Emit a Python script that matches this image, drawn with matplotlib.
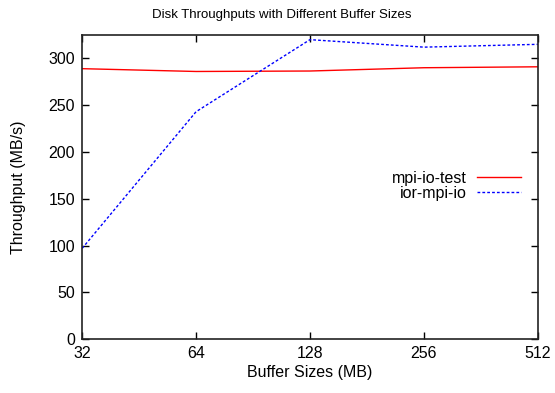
import matplotlib
matplotlib.use("Agg")
import matplotlib.pyplot as plt

plt.rcParams['font.family'] = ['Liberation Sans', 'DejaVu Sans']

buffer_sizes = [32, 64, 128, 256, 512]
mpi_io_test = [289, 286, 286.5, 290, 291]
ior_mpi_io = [97, 243, 320, 312, 315]
y_ticks = [0, 50, 100, 150, 200, 250, 300]

fig = plt.figure(figsize=(5.55, 3.93), dpi=100)
ax = fig.add_axes([0.148, 0.137, 0.821, 0.774])

ax.plot(buffer_sizes, mpi_io_test, color='#ff0000', lw=1.0, label='mpi-io-test')
ax.plot(buffer_sizes, ior_mpi_io, color='#0000ff', lw=1.0, ls=(0, (2, 1.5)), label='ior-mpi-io')

ax.set_xscale('log', base=2)
ax.set_xlim(32, 512)
ax.set_ylim(0, 325)
ax.set_xticks(buffer_sizes)
ax.set_xticklabels([str(v) for v in buffer_sizes])
ax.minorticks_off()
ax.set_yticks(y_ticks)

ax.tick_params(direction='in', top=True, right=True, length=5, width=1,
               labelsize=11.5, pad=5, colors='black')
for s in ax.spines.values():
    s.set_linewidth(1.2)
    s.set_color('#222222')

ax.set_xlabel('Buffer Sizes (MB)', fontsize=11.5, labelpad=3)
ax.set_ylabel('Throughput (MB/s)', fontsize=11.5, labelpad=16)
fig.suptitle('Disk Throughputs with Different Buffer Sizes', fontsize=9.5,
             x=0.508, y=0.976, va='top')

ax.legend(loc='center right', bbox_to_anchor=(0.995, 0.505), frameon=False,
          markerfirst=False, fontsize=11.5, handlelength=2.75,
          labelspacing=0.0, handletextpad=0.65)

fig.savefig('out.png', dpi=100)
